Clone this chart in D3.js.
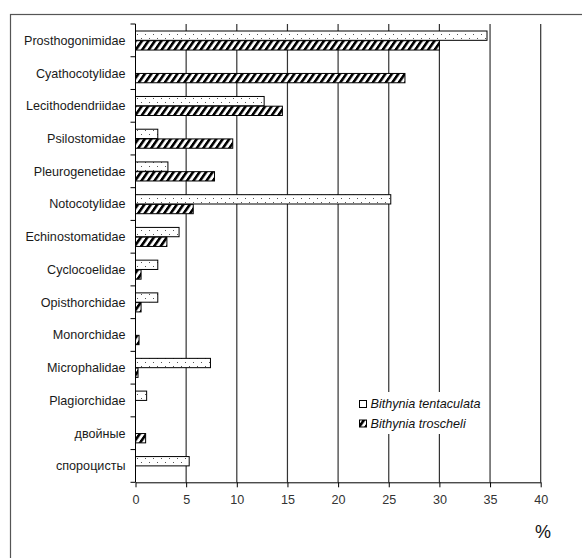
<!DOCTYPE html>
<html><head><meta charset="utf-8">
<script src="https://cdn.jsdelivr.net/npm/d3@7"></script>
<style>body{margin:0;background:#fff}</style>
</head><body>
<script>
const categories = ["Prosthogonimidae","Cyathocotylidae","Lecithodendriidae","Psilostomidae","Pleurogenetidae","Notocotylidae","Echinostomatidae","Cyclocoelidae","Opisthorchidae","Monorchidae","Microphalidae","Plagiorchidae","двойные","спороцисты"];
const tentaculata = [34.7,0,12.7,2.2,3.2,25.2,4.3,2.2,2.2,0,7.4,1.1,0,5.3];
const troscheli   = [30.0,26.6,14.5,9.6,7.8,5.7,3.1,0.55,0.55,0.35,0.25,0,1.0,0];
const seriesNames = ["Bithynia tentaculata","Bithynia troscheli"];
const xTicks = [0,5,10,15,20,25,30,35,40];

const W=582,H=558;
const FONT="Liberation Sans, Arial, sans-serif";
const svg=d3.select("body").append("svg").attr("width",W).attr("height",H);
const defs=svg.append("defs");
const dots=defs.append("pattern").attr("id","dots").attr("patternUnits","userSpaceOnUse").attr("width",8).attr("height",8);
dots.append("rect").attr("width",8).attr("height",8).attr("fill","#fff");
dots.append("rect").attr("x",1).attr("y",2).attr("width",1).attr("height",1).attr("fill","#555");
dots.append("rect").attr("x",5).attr("y",6).attr("width",1).attr("height",1).attr("fill","#555");
const hatch=defs.append("pattern").attr("id","hatch").attr("patternUnits","userSpaceOnUse").attr("width",6.5).attr("height",6).attr("patternTransform","skewX(-35)");
hatch.append("rect").attr("width",6.5).attr("height",6).attr("fill","#fff");
hatch.append("rect").attr("x",0).attr("width",3.2).attr("height",6).attr("fill","#000");

// outer frame
svg.append("rect").attr("x",10.5).attr("y",14.5).attr("width",600).attr("height",600).attr("fill","none").attr("stroke","#555").attr("stroke-width",1.2);

const x=d3.scaleLinear().domain([0,40]).range([135.5,540.7]);
const y=d3.scaleBand().domain(categories).range([24,482.3]).padding(0);
const sub=d3.scaleBand().domain(seriesNames).range([7,y.step()-6.3]).padding(0);

// gridlines
svg.append("g").selectAll("line").data(xTicks.slice(1)).join("line")
 .attr("x1",d=>x(d)).attr("x2",d=>x(d)).attr("y1",24).attr("y2",482.3)
 .attr("stroke","#333").attr("stroke-width",1.2);

// legend background
svg.append("rect").attr("x",353).attr("y",392).attr("width",133).attr("height",42).attr("fill","#fff");

// bars
const data=categories.map((c,i)=>({c,vals:[tentaculata[i],troscheli[i]]}));
const g=svg.append("g");
data.forEach(d=>{
  seriesNames.forEach((s,j)=>{
    const v=d.vals[j]; if(!v) return;
    g.append("rect").attr("x",x(0)).attr("y",y(d.c)+sub(s)).attr("width",x(v)-x(0)).attr("height",sub.bandwidth()-0.4)
     .attr("fill",j===0?"url(#dots)":"url(#hatch)").attr("stroke","#000").attr("stroke-width",1);
  });
});

// y axis
const yAxis=svg.append("g").attr("transform",`translate(${x(0)},0)`);
yAxis.append("line").attr("x1",0).attr("x2",0).attr("y1",24).attr("y2",482.3).attr("stroke","#000");
const bounds=d3.range(categories.length+1).map(i=>24+i*y.step());
yAxis.selectAll("line.t").data(bounds).join("line").attr("class","t").attr("x1",-5).attr("x2",0).attr("y1",d=>d).attr("y2",d=>d).attr("stroke","#000");
yAxis.selectAll("text").data(categories).join("text")
 .attr("x",-10).attr("y",d=>y(d)+y.bandwidth()/2).attr("dy","0.35em").attr("text-anchor","end")
 .attr("font-family",FONT).attr("font-size",12.6).attr("fill","#1a1a1a").text(d=>d);

// x axis
const xAxis=svg.append("g").attr("transform","translate(0,482.3)")
 .call(d3.axisBottom(x).tickValues(xTicks).tickSize(5).tickPadding(8).tickSizeOuter(0));
xAxis.select(".domain").attr("stroke","#000");
xAxis.selectAll(".tick line").attr("stroke","#000");
xAxis.selectAll("text").attr("font-family",FONT).attr("font-size",12.6).attr("fill","#333");

svg.append("text").attr("x",543).attr("y",538).attr("text-anchor","middle").attr("font-family",FONT).attr("font-size",18).attr("fill","#111").text("%");

// legend
const lg=svg.append("g");
seriesNames.forEach((s,j)=>{
  const cy=404+j*19.5;
  lg.append("rect").attr("x",359.5).attr("y",cy-3.5).attr("width",7).attr("height",7).attr("fill",j===0?"#fff":"url(#hatch)").attr("stroke","#000");
  lg.append("text").attr("x",370.5).attr("y",cy).attr("dy","0.35em").attr("font-family",FONT).attr("font-style","italic").attr("font-size",12.6).attr("fill","#111").text(s);
});
</script>
</body></html>
